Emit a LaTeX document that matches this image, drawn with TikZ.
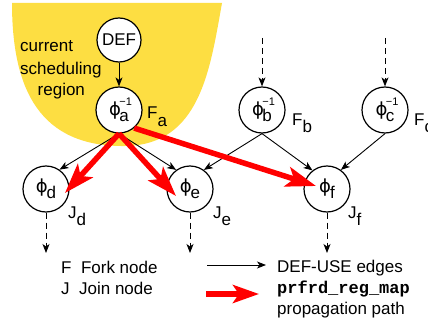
\documentclass[tikz,border=0pt]{standalone}
\usepackage{fontspec}
\setmainfont{Liberation Sans}
\setmonofont{Liberation Mono}
\newfontfamily\phifont{DejaVu Sans}
\usetikzlibrary{arrows.meta}
\definecolor{regionyellow}{RGB}{253,222,66}
\definecolor{pathred}{RGB}{255,0,0}
\newcommand{\phglyph}{{\phifont\fontsize{18}{20}\selectfont ϕ}}
\newcommand{\phsub}[1]{\phglyph\kern-1pt\raisebox{-6pt}{#1}}
\newcommand{\phinv}[1]{\phglyph\kern-1.5pt\rlap{\raisebox{9.5pt}{\fontsize{11}{11}\selectfont −1}}\raisebox{-6pt}{#1}}
\newcommand{\lsub}[2]{#1\raisebox{-7pt}{#2}}
\begin{document}
\begin{tikzpicture}[x=1pt,y=-1pt,
  txt/.style={font=\fontsize{17}{20}\selectfont, inner sep=0pt, anchor=base west},
  phinode/.style={circle, draw, line width=1.2pt, fill=white, minimum size=46pt, inner sep=0pt, font=\fontsize{17}{20}\selectfont},
  duedge/.style={-{Stealth[length=9pt,width=7pt,inset=2.5pt]}, line width=0.9pt},
  dashedge/.style={duedge, dash pattern=on 6pt off 4pt},
  redpath/.style={-{Stealth[length=30pt,width=20pt,inset=7pt]}, line width=5.5pt, draw=pathred}]
\useasboundingbox (0,0) rectangle (428,326);
% scheduling region
\fill[regionyellow] (12,3) -- (222,3) .. controls (210,70) and (200,145) .. (125,146)
  .. controls (40,147) and (12,90) .. (12,3) -- cycle;
\node[txt] (cur) at (20,52) {current};
\node[txt] (sch) at (20,74.5) {scheduling};
\node[txt] (reg) at (37.5,96) {region};
% nodes
\node[phinode, minimum size=44pt] (def) at (119,40) {DEF};
\node[phinode] (a) at (119,110) {\phinv{a}};
\node[phinode] (b) at (262,110) {\phinv{b}};
\node[phinode] (c) at (385,110) {\phinv{c}};
\node[phinode] (d) at (46,189) {\phsub{d}};
\node[phinode] (e) at (190,189) {\phsub{e}};
\node[phinode] (f) at (327,189) {\phsub{f}};
% labels
\node[txt] (Fa) at (147,119) {\lsub{F}{a}};
\node[txt] (Fb) at (292,125) {\lsub{F}{b}};
\node[txt] (Fc) at (414,125) {\lsub{F}{c}};
\node[txt] (Jd) at (68,218) {\lsub{J}{d}};
\node[txt] (Je) at (213,218) {\lsub{J}{e}};
\node[txt] (Jf) at (348,218) {\lsub{J}{f}};
% free ends
\coordinate (btop) at (262,38);
\coordinate (ctop) at (385,38);
\coordinate (dbot) at (46,253);
\coordinate (ebot) at (190,253);
\coordinate (fbot) at (327,253);
% DEF-USE edges
\draw[duedge] (def) -- (a);
\draw[duedge] (a.south) -- (d.55);
\draw[duedge] (a.south) -- (e.126);
\draw[duedge] (b.south) -- (e.54);
\draw[duedge] (b.south) -- (f.128);
\draw[duedge] (c.south) -- (f.54);
\draw[dashedge] (btop) -- (b);
\draw[dashedge] (ctop) -- (c);
\draw[dashedge] (d) -- (dbot);
\draw[dashedge] (e) -- (ebot);
\draw[dashedge] (f) -- (fbot);
% propagation paths
\coordinate (dtip) at (65,193);
\coordinate (etip) at (176,196);
\coordinate (ftip) at (316,186);
\draw[redpath] (a.south) -- (dtip);
\draw[redpath] (a.south) -- (etip);
\draw[redpath] (a.-50) -- (ftip);
% legend
\node[txt] (lf) at (61,273) {F\ \ Fork node};
\node[txt] (lj) at (61,294) {J\ \ Join node};
\coordinate (l1s) at (207,265);
\coordinate (l1e) at (266,265);
\coordinate (l2s) at (206,294);
\coordinate (l2e) at (259,294);
\draw[duedge] (l1s) -- (l1e);
\draw[redpath, -{Stealth[length=26pt,width=18pt,inset=6pt]}] (l2s) -- (l2e);
\node[txt] (t1) at (277,272.5) {DEF-USE edges};
\node[txt, font=\fontsize{17}{20}\selectfont\ttfamily\bfseries] (t2) at (277,293) {prfrd\_reg\_map};
\node[txt] (t3) at (277,314) {propagation path};
\end{tikzpicture}
\end{document}
